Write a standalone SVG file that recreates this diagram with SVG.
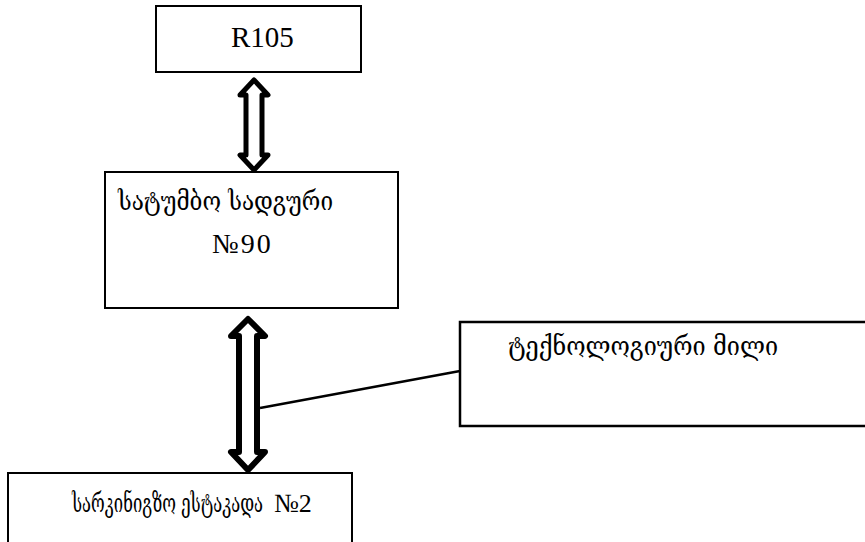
<svg xmlns="http://www.w3.org/2000/svg" width="865" height="542" viewBox="0 0 865 542">
<style>
.box{fill:#fff;stroke:#000;stroke-width:2}
.t{font-family:"Liberation Serif","DejaVu Serif",serif;fill:#000}
.g{font-family:"DejaVu Serif","Liberation Serif",serif;font-size:26px;fill:#000}
.arr{fill:#fff;stroke:#000;stroke-linejoin:round}
</style>
<rect width="865" height="542" fill="#fff"/>
<g id="r105">
<rect class="box" x="156" y="6" width="205" height="66"/>
<text class="t" x="231" y="47" font-size="29">R105</text>
</g>
<g id="station">
<rect class="box" x="105" y="172" width="293" height="136"/>
<text class="g" x="118" y="210" textLength="215" lengthAdjust="spacingAndGlyphs">სატუმბო  სადგური</text>
<text class="t" x="212" y="253" font-size="28" letter-spacing="2">№90</text>
</g>
<g id="pipe">
<path d="M866,322 H460 V426 H866" fill="#fff" stroke="#000" stroke-width="2.5"/>
<text class="g" x="508" y="355" textLength="270" lengthAdjust="spacingAndGlyphs">ტექნოლოგიური  მილი</text>
</g>
<g id="estakada">
<path d="M8,544 V473 H352 V544" fill="#fff" stroke="#000" stroke-width="2"/>
<text class="g" transform="translate(72,512) scale(0.64,1)" x="0" y="0">სარკინიგზო  ესტაკადა</text>
<text class="t" x="274" y="512" font-size="26">№2</text>
</g>
<g id="connectors">
<polygon class="arr" stroke-width="5" points="254,80 268,95 262,95 262,155 268,155 254,170 240,155 246,155 246,95 240,95"/>
<polygon class="arr" stroke-width="6" points="248,319 265,336 257,336 257,452 265,452 248,470 231,452 239,452 239,336 231,336"/>
<line x1="260" y1="408" x2="460" y2="371" stroke="#000" stroke-width="2.5"/>
</g>
</svg>
